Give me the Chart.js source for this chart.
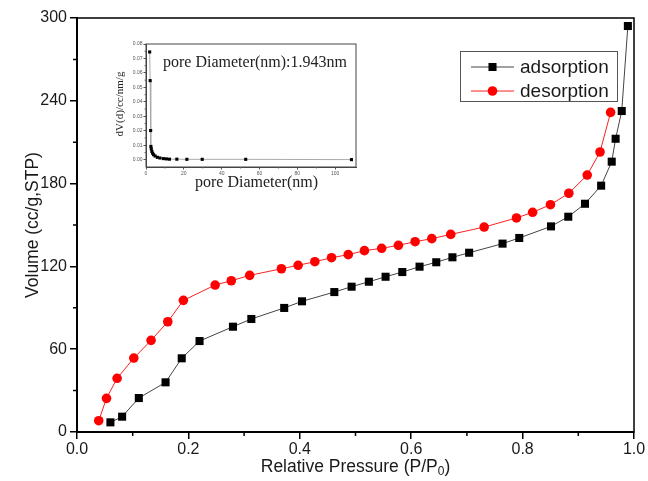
<!DOCTYPE html>
<html>
<head>
<meta charset="utf-8">
<script src="https://cdn.jsdelivr.net/npm/chart.js@4/dist/chart.umd.min.js"></script>
<style>
  body { margin: 0; background: #fff; }
  #wrap { position: relative; width: 648px; height: 481px; }
  #main { position: absolute; left: 0; top: 0; }
  #inset { position: absolute; left: 110px; top: 20px; }
</style>
</head>
<body>
<div id="wrap">
  <canvas id="main" width="648" height="481"></canvas>
  <canvas id="inset" width="260" height="180"></canvas>
</div>
<script>
// isotherm: relative pressure vs adsorbed volume
const adsPressure = [0.060, 0.081, 0.111, 0.159, 0.188, 0.220, 0.280, 0.313, 0.372, 0.404,
  0.462, 0.493, 0.524, 0.554, 0.584, 0.615, 0.645, 0.674, 0.704, 0.764,
  0.794, 0.851, 0.882, 0.912, 0.941, 0.960, 0.967, 0.978, 0.989];
const adsVolume = [7.0, 11.1, 24.6, 36.0, 53.4, 65.9, 76.3, 81.9, 89.9, 94.7,
  101.4, 105.3, 108.9, 112.5, 115.9, 119.8, 123.0, 126.6, 129.9, 136.5,
  140.6, 149.0, 156.0, 165.4, 178.5, 195.9, 212.5, 232.6, 294.2];

const desPressure = [0.039, 0.053, 0.072, 0.102, 0.133, 0.163, 0.191, 0.248, 0.277, 0.310,
  0.367, 0.397, 0.427, 0.457, 0.487, 0.516, 0.547, 0.577, 0.607, 0.637,
  0.671, 0.731, 0.789, 0.818, 0.850, 0.883, 0.916, 0.939, 0.958];
const desVolume = [8.2, 24.4, 38.9, 53.6, 66.4, 79.9, 95.4, 106.5, 109.6, 113.5,
  118.3, 120.8, 123.4, 126.3, 128.5, 131.4, 133.1, 135.3, 137.9, 140.1,
  143.2, 148.5, 155.1, 159.2, 164.7, 173.0, 186.2, 202.9, 231.6];

const pressureTicks = [0, 0.2, 0.4, 0.6, 0.8, 1.0];
const volumeTicks = [0, 60, 120, 180, 240, 300];

// pore size distribution (inset)
const poreDiameter = [1.94, 2.2, 2.45, 2.6, 2.8, 3.1, 3.5, 4.0, 4.8, 6.0,
  7.4, 9.2, 10.8, 12.4, 16.3, 21.6, 29.7, 52.7, 108.6];
const poreDist = [0.0745, 0.0547, 0.0202, 0.0092, 0.0075, 0.0058, 0.0045, 0.0035, 0.0026, 0.0017,
  0.0012, 0.0008, 0.0006, 0.0004, 0.0004, 0.0003, 0.0003, 0.0003, 0.0001];
const diameterTicks = [0, 20, 40, 60, 80, 100];
const distTicks = [0, 0.01, 0.02, 0.03, 0.04, 0.05, 0.06, 0.07, 0.08];

const sans = "'Liberation Sans', Arial, sans-serif";
const serif = "'Liberation Serif', 'Times New Roman', serif";
const textColor = "#1a1a1a";

const zip = (xs, ys) => xs.map((x, i) => ({ x: x, y: ys[i] }));
const fixTicks = values => scale => { scale.ticks = values.map(v => ({ value: v })); };

// short ticks halfway between the labelled ones, pointing out of the plot
function drawMinorTicks(ctx, chart, xValues, yValues, len) {
    const area = chart.chartArea;
    const xs = chart.scales.x;
    const ys = chart.scales.y;
    ctx.beginPath();
    for (let i = 0; i < xValues.length - 1; i++) {
        const px = xs.getPixelForValue((xValues[i] + xValues[i + 1]) / 2);
        ctx.moveTo(px, area.bottom);
        ctx.lineTo(px, area.bottom + len);
    }
    for (let i = 0; i < yValues.length - 1; i++) {
        const py = ys.getPixelForValue((yValues[i] + yValues[i + 1]) / 2);
        ctx.moveTo(area.left, py);
        ctx.lineTo(area.left - len, py);
    }
    ctx.stroke();
}

// box, minor ticks, axis titles and legend for the isotherm
const isothermDecor = {
    id: "isothermDecor",
    afterDraw(chart) {
        const ctx = chart.ctx;
        const area = chart.chartArea;
        ctx.save();

        ctx.strokeStyle = "#000";
        ctx.lineWidth = 1.5;
        ctx.strokeRect(area.left, area.top, area.right - area.left, area.bottom - area.top);
        drawMinorTicks(ctx, chart, pressureTicks, volumeTicks, 4);

        // axis titles
        ctx.fillStyle = textColor;
        ctx.textBaseline = "middle";
        ctx.font = "17.5px " + sans;
        const main = "Relative Pressure (P/P";
        const close = ")";
        const wMain = ctx.measureText(main).width;
        const wClose = ctx.measureText(close).width;
        ctx.font = "12px " + sans;
        const wSub = ctx.measureText("0").width;
        const tx = (area.left + area.right) / 2 - (wMain + wSub + wClose) / 2;
        const ty = 467;
        ctx.textAlign = "left";
        ctx.font = "17.5px " + sans;
        ctx.fillText(main, tx, ty);
        ctx.font = "12px " + sans;
        ctx.fillText("0", tx + wMain, ty + 5);
        ctx.font = "17.5px " + sans;
        ctx.fillText(close, tx + wMain + wSub, ty);

        ctx.save();
        ctx.translate(33, (area.top + area.bottom) / 2);
        ctx.rotate(-Math.PI / 2);
        ctx.textAlign = "center";
        ctx.fillText("Volume (cc/g,STP)", 0, 0);
        ctx.restore();

        // legend
        ctx.fillStyle = "#fff";
        ctx.fillRect(460.5, 51.5, 157, 50);
        ctx.strokeStyle = "#555";
        ctx.lineWidth = 1;
        ctx.strokeRect(460.5, 51.5, 157, 50);
        chart.data.datasets.forEach((ds, i) => {
            const y = 67 + i * 24;
            ctx.strokeStyle = ds.borderColor;
            ctx.lineWidth = ds.borderWidth;
            ctx.beginPath();
            ctx.moveTo(471, y);
            ctx.lineTo(514, y);
            ctx.stroke();
            ctx.fillStyle = ds.pointBackgroundColor;
            ctx.strokeStyle = ds.pointBackgroundColor;
            Chart.helpers.drawPoint(ctx, {
                pointStyle: ds.pointStyle, radius: ds.pointRadius, rotation: 0, borderWidth: 0
            }, 492.5, y);
            ctx.fillStyle = textColor;
            ctx.font = "19px " + sans;
            ctx.textAlign = "left";
            ctx.fillText(ds.label, 520, y + 1);
        });
        ctx.restore();
    }
};

new Chart(document.getElementById("main"), {
    type: "scatter",
    data: {
        datasets: [
            {
                label: "adsorption",
                data: zip(adsPressure, adsVolume),
                showLine: true,
                borderColor: "#444",
                borderWidth: 1,
                pointStyle: "rect",
                pointRadius: 5.7,
                pointBackgroundColor: "#000",
                pointBorderWidth: 0
            },
            {
                label: "desorption",
                data: zip(desPressure, desVolume),
                showLine: true,
                borderColor: "#ff2020",
                borderWidth: 1,
                pointStyle: "circle",
                pointRadius: 4.8,
                pointBackgroundColor: "#ff0000",
                pointBorderWidth: 0
            }
        ]
    },
    options: {
        responsive: false,
        animation: false,
        layout: { padding: { top: 18, right: 14, left: 0, bottom: 0 } },
        plugins: {
            legend: { display: false },
            tooltip: { enabled: false }
        },
        scales: {
            x: {
                type: "linear",
                min: 0,
                max: 1,
                afterBuildTicks: fixTicks(pressureTicks),
                afterFit: s => { s.height = 49; },
                grid: { drawOnChartArea: false, tickLength: 7, color: "#000", lineWidth: 1.5 },
                border: { color: "#000", width: 2 },
                ticks: {
                    color: textColor,
                    padding: 1,
                    maxRotation: 0,
                    font: { family: sans, size: 16 },
                    callback: v => v.toFixed(1)
                }
            },
            y: {
                min: 0,
                max: 300,
                afterBuildTicks: fixTicks(volumeTicks),
                afterFit: s => { s.width = 77; },
                grid: { drawOnChartArea: false, tickLength: 7, color: "#000", lineWidth: 1.5 },
                border: { color: "#000", width: 2 },
                ticks: {
                    color: textColor,
                    padding: 3,
                    font: { family: sans, size: 16 },
                    callback: v => String(v)
                }
            }
        }
    },
    plugins: [isothermDecor]
});

// frame, titles and note for the pore size inset
const insetDecor = {
    id: "insetDecor",
    afterDraw(chart) {
        const ctx = chart.ctx;
        const area = chart.chartArea;
        ctx.save();
        ctx.strokeStyle = "#444";
        ctx.lineWidth = 1;
        ctx.strokeRect(area.left, area.top, area.right - area.left, area.bottom - area.top);
        ctx.strokeStyle = "#666";
        drawMinorTicks(ctx, chart, diameterTicks, distTicks, 1.5);

        ctx.fillStyle = "#222";
        ctx.textBaseline = "middle";
        ctx.textAlign = "left";
        ctx.font = "16px " + serif;
        ctx.fillText("pore Diameter(nm):1.943nm", 53, 43);

        ctx.textAlign = "center";
        ctx.fillText("pore Diameter(nm)", 146.5, 163);

        ctx.translate(10, 84);
        ctx.rotate(-Math.PI / 2);
        ctx.font = "11px " + serif;
        ctx.fillText("dV(d)/cc/nm/g", 0, 0);
        ctx.restore();
    }
};

const tinyTicks = { color: "#555", padding: 1, maxRotation: 0, font: { family: sans, size: 5 } };

new Chart(document.getElementById("inset"), {
    type: "scatter",
    data: {
        datasets: [{
            data: zip(poreDiameter, poreDist),
            showLine: true,
            borderColor: "#aaa",
            borderWidth: 1,
            pointStyle: "rect",
            pointRadius: 2.2,
            pointBackgroundColor: "#000",
            pointBorderWidth: 0
        }]
    },
    options: {
        responsive: false,
        animation: false,
        layout: { padding: { top: 24, right: 14, left: 0, bottom: 0 } },
        plugins: {
            legend: { display: false },
            tooltip: { enabled: false }
        },
        scales: {
            x: {
                type: "linear",
                min: 0,
                max: 111,
                afterBuildTicks: fixTicks(diameterTicks),
                afterFit: s => { s.height = 33; },
                grid: { drawOnChartArea: false, tickLength: 2.5, color: "#555" },
                border: { color: "#444", width: 1 },
                ticks: Object.assign({}, tinyTicks, { callback: v => String(v) })
            },
            y: {
                min: -0.005,
                max: 0.08,
                afterBuildTicks: fixTicks(distTicks),
                afterFit: s => { s.width = 36; },
                grid: { drawOnChartArea: false, tickLength: 2.5, color: "#555" },
                border: { color: "#444", width: 1 },
                ticks: Object.assign({}, tinyTicks, { callback: v => v.toFixed(2) })
            }
        }
    },
    plugins: [insetDecor]
});
</script>
</body>
</html>
